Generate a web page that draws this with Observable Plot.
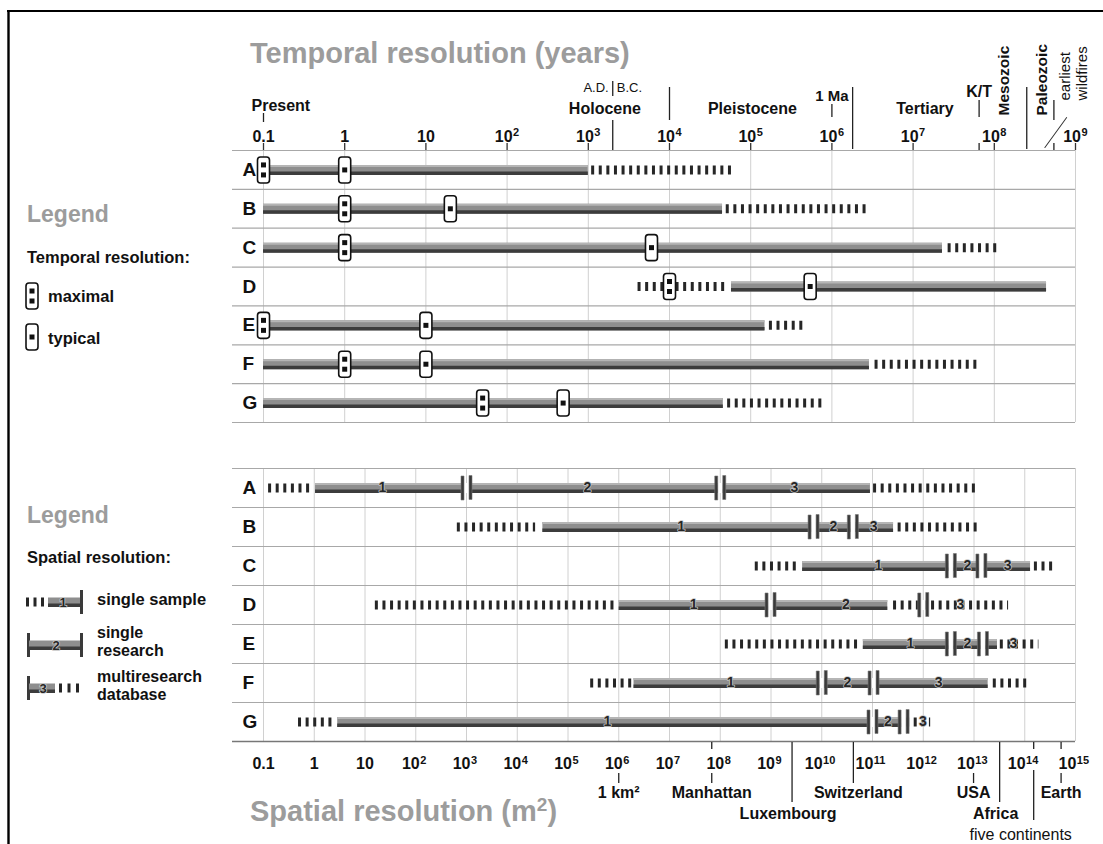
<!DOCTYPE html>
<html><head><meta charset="utf-8">
<script src="https://cdn.jsdelivr.net/npm/d3@7"></script>
<script src="https://cdn.jsdelivr.net/npm/@observablehq/plot@0.6"></script>
<style>
body{margin:0;background:#fff;}
#wrap{position:relative;width:1103px;height:844px;overflow:hidden;background:#fff;}
#wrap svg{position:absolute;left:0;}
</style></head><body><div id="wrap"></div>
<script>
const FONT = '"Liberation Sans", Arial, Helvetica, sans-serif';

// ---------------- data ----------------
const rows = ["A", "B", "C", "D", "E", "F", "G"];

// Temporal resolution (years)
const timeTicks = [0.1, 1, 10, 1e2, 1e3, 1e4, 1e5, 1e6, 1e7, 1e8, 1e9];
const tSolidFrom = [0.1, 0.1, 0.1, 5.8e4, 0.1, 0.1, 0.1];
const tSolidTo   = [1e3, 4.5e4, 2.3e7, 4.4e8, 1.5e5, 2.9e6, 4.6e4];
const tDashFrom  = [1.1e3, 5e4, 2.7e7, 4.1e3, 1.7e5, 3.4e6, 5.2e4];
const tDashTo    = [6.5e4, 2.8e6, 1.1e8, 5.1e4, 4.5e5, 6.3e7, 7.8e5];
const tMaximal   = [0.1, 1, 1, 1e4, 0.1, 1, 50];
const tTypical   = [1, 20, 6e3, 5.4e5, 10, 10, 490];

// time-scale annotations (years before present)
const present = 0.1;
const adbc = 2000;
const oneMa = 1e6;
const kt = 6.5e7;
const paleozoicStart = 5.42e8;
const wildfires = 4.2e8;
const boundaries = [1e4, 1.8e6, 2.51e8];
const epochNames = ["Holocene", "Pleistocene", "Tertiary"];
const epochAt = [1.6e3, 1.05e5, 1.4e7];
const eraNames = ["Mesozoic", "Paleozoic"];
const eraAt = [1.3e8, 3.9e8];

// Spatial resolution (m²)
const areaTicks = [0.1, 1, 10, 1e2, 1e3, 1e4, 1e5, 1e6, 1e7, 1e8, 1e9, 1e10, 1e11, 1e12, 1e13, 1e14, 1e15];
const sLeadFrom = [0.126, 660, 4.9e8, 16, 1.26e8, 2.8e5, 0.49];
const sLeadTo   = [0.84, 2.3e4, 3.3e9, 9.5e5, 5.3e10, 1.9e6, 2.4];
const sStart    = [1.06, 3.2e4, 4.2e9, 1.02e6, 6.6e10, 2e6, 2.9];
const sDiv1     = [1e3, 6.9e9, 3.5e12, 9.8e8, 3.5e12, 1e10, 1e11];
const sDiv2     = [1e8, 4.1e10, 1.4e13, 1e12, 1.5e13, 1.05e11, 4.1e11];
const sSolidEnd = [9.1e10, 2.6e11, 1.3e14, 2e11, 2.9e13, 1.9e13, 4.1e11];
const sTailFrom = [1.05e11, 3.2e11, 1.55e14, 2.6e11, 3.3e13, 2.4e13, 4.7e11];
const sTailTo   = [1.2e13, 1.35e13, 4.1e14, 4.8e13, 1.9e14, 1.1e14, 1.4e12];
const sLabel1At = [22, 1.7e7, 1.3e11, 3e7, 5.6e11, 1.6e8, 6e5];
const sLabel2At = [2.4e5, 1.7e10, 7.4e12, 3e10, 7.4e12, 3.2e10, 2e11];
const sLabel3At = [2.9e9, 1.05e11, 4.6e13, 5.4e12, 6e13, 2e12, 9.8e11];

const areaNames  = ["1 km²", "Manhattan", "Luxembourg", "Switzerland", "USA", "Africa", "five continents", "Earth"];
const areaValues = [1e6, 6.8e7, 2.6e9, 4.2e10, 9.8e12, 3.2e13, 1.5e14, 5.2e14];
const areaTier   = [1, 1, 2, 1, 1, 2, 3, 1];

// ---------------- helpers ----------------
const rowY = d => rows.indexOf(d.row) + 0.5;
const rowEdges = d3.range(rows.length + 1);
const expOf = v => Math.round(Math.log10(v));
const baseText = v => v >= 100 ? "10" : String(v);
const supText = v => String(expOf(v));

function roundRect(w, h, r) {
  return {draw(ctx) {
    const x0 = -w / 2, y0 = -h / 2, x1 = w / 2, y1 = h / 2;
    ctx.moveTo(x0 + r, y0); ctx.lineTo(x1 - r, y0); ctx.arcTo(x1, y0, x1, y0 + r, r);
    ctx.lineTo(x1, y1 - r); ctx.arcTo(x1, y1, x1 - r, y1, r);
    ctx.lineTo(x0 + r, y1); ctx.arcTo(x0, y1, x0, y1 - r, r);
    ctx.lineTo(x0, y0 + r); ctx.arcTo(x0, y0, x0 + r, y0, r); ctx.closePath();
  }};
}
const sq = s => ({draw(ctx) { ctx.rect(-s / 2, -s / 2, s, s); }});
const doubleBar = {draw(ctx) { ctx.rect(-5.5, -12, 3, 24); ctx.rect(2.5, -12.5, 3, 24); }};
const gapRect = {draw(ctx) { ctx.rect(-2.5, -5, 5, 10); }};
const lineShape = {draw(ctx, l) { ctx.moveTo(0, 0); ctx.lineTo(0, -l); }};

function geo(top, height, mt, mb) {
  const fTop = top + mt, fBot = top + height - mb;
  return {
    vline: (data, y1, y2, o = {}) => Plot.ruleX(data, {x: d => d, stroke: "#222", strokeWidth: 1.3, ...o, insetTop: y1 - fTop, insetBottom: fBot - y2}),
    label: (data, y, o = {}) => Plot.text(data, {frameAnchor: "top", lineAnchor: "bottom", fontWeight: "bold", fontSize: 16, fill: "#111", ...o, dy: y - fTop + (o.dy || 0)})
  };
}

function barMarks(solid, dashed) {
  return [
    Plot.ruleY(solid, {y: rowY, x1: "x1", x2: "x2", stroke: "#8e8e8e", strokeWidth: 10}),
    Plot.ruleY(solid, {y: rowY, x1: "x1", x2: "x2", stroke: "#b5b5b5", strokeWidth: 2, dy: -4}),
    Plot.ruleY(solid, {y: rowY, x1: "x1", x2: "x2", stroke: "#3c3c3c", strokeWidth: 3.5, dy: 3.3}),
    Plot.ruleY(dashed, {y: rowY, x1: "x1", x2: "x2", stroke: "#262626", strokeWidth: 9, strokeDasharray: "3,4.6"})
  ];
}

const wrap = document.getElementById("wrap");

// ---------------- temporal panel ----------------
{
  const top = 0, height = 430, mt = 150, mb = 8;
  const G = geo(top, height, mt, mb);
  const solid = rows.map((row, i) => ({row, x1: tSolidFrom[i], x2: tSolidTo[i]}));
  const dashed = rows.map((row, i) => ({row, x1: tDashFrom[i], x2: tDashTo[i]}));
  const boxes = rows.flatMap((row, i) => [{row, v: tMaximal[i], kind: "maximal"}, {row, v: tTypical[i], kind: "typical"}]);
  const maxB = boxes.filter(d => d.kind === "maximal"), typB = boxes.filter(d => d.kind === "typical");
  const plain = timeTicks.filter(v => v < 100), pow = timeTicks.filter(v => v >= 100);
  const svg = Plot.plot({
    width: 1103, height, marginTop: mt, marginBottom: mb, marginLeft: 263, marginRight: 28,
    style: {background: "transparent", fontFamily: FONT, overflow: "visible"},
    x: {type: "log", domain: [0.1, 1e9], axis: null},
    y: {domain: [0, rows.length], reverse: true, axis: null},
    marks: [
      Plot.ruleX(timeTicks, {x: d => d, stroke: "#d0d0d0", strokeWidth: 1}),
      Plot.ruleY(rowEdges, {y: d => d, stroke: "#a8a8a8", strokeWidth: 1.2, insetLeft: -31}),
      ...barMarks(solid, dashed),
      Plot.dot(boxes, {x: "v", y: rowY, symbol: roundRect(12, 26, 3), fill: "white", stroke: "#111", strokeWidth: 1.6}),
      Plot.dot(maxB, {x: "v", y: rowY, symbol: sq(5), fill: "#111", dy: -5}),
      Plot.dot(maxB, {x: "v", y: rowY, symbol: sq(5), fill: "#111", dy: 5}),
      Plot.dot(typB, {x: "v", y: rowY, symbol: sq(5), fill: "#111"}),
      Plot.text(rows, {frameAnchor: "left", y: (d, i) => i + 0.5, text: d => d, dx: -21, fontSize: 19, fontWeight: "bold", fill: "#111"}),
      // header: decade ticks and labels
      G.vline(timeTicks, 143, 150, {stroke: "#333"}),
      G.label(plain, 141, {x: d => d, text: baseText, textAnchor: "middle"}),
      G.label(pow, 141, {x: d => d, text: baseText, textAnchor: "end", dx: 5.5}),
      G.label(pow, 135, {x: d => d, text: supText, textAnchor: "start", dx: 6, fontSize: 11}),
      // present
      G.vline([present], 113, 122),
      G.label([present], 110, {x: d => d, text: () => "Present", textAnchor: "start", dx: -12}),
      // A.D. | B.C.
      G.vline([adbc], 81, 96),
      G.vline([adbc], 120, 150),
      G.label([adbc], 91, {x: d => d, text: () => "A.D.", textAnchor: "end", dx: -4, fontWeight: "normal", fontSize: 13}),
      G.label([adbc], 91, {x: d => d, text: () => "B.C.", textAnchor: "start", dx: 4, fontWeight: "normal", fontSize: 13}),
      // epoch boundaries
      G.vline(boundaries.slice(0, 1), 87, 120),
      G.vline(boundaries.slice(1), 87, 149),
      G.label(epochNames, 113, {x: (d, i) => epochAt[i], text: d => d, textAnchor: "middle"}),
      // 1 Ma
      G.vline([oneMa], 104, 117),
      G.label([oneMa], 100, {x: d => d, text: () => "1 Ma", textAnchor: "middle", fontSize: 15}),
      // K/T
      G.vline([kt], 100, 117),
      G.vline([kt], 143, 150),
      G.label([kt], 96, {x: d => d, text: () => "K/T", textAnchor: "middle"}),
      // eras (rotated)
      G.label(eraNames, 115, {x: (d, i) => eraAt[i], text: d => d, rotate: -90, textAnchor: "start", lineAnchor: "middle", fontSize: 15.5}),
      G.vline([paleozoicStart], 100, 120),
      G.vline([paleozoicStart], 143, 150),
      // earliest wildfires
      Plot.vector([wildfires], {x: d => d, frameAnchor: "top", dy: -3, length: 37, rotate: 36, anchor: "start", shape: lineShape, stroke: "#333", strokeWidth: 1}),
      G.label([wildfires], 100, {x: d => d, text: () => "earliest\nwildfires", rotate: -90, textAnchor: "start", lineAnchor: "middle", fontWeight: "normal", fontSize: 15, lineHeight: 1.15, dx: 28})
    ]
  });
  svg.style.top = top + "px";
  wrap.appendChild(svg);
}

// ---------------- spatial panel ----------------
{
  const top = 430, height = 414, mt = 38, mb = 103;
  const G = geo(top, height, mt, mb);
  const solid = rows.map((row, i) => ({row, x1: sStart[i], x2: sSolidEnd[i]}));
  const dashed = rows.flatMap((row, i) => [{row, x1: sLeadFrom[i], x2: sLeadTo[i]}, {row, x1: sTailFrom[i], x2: sTailTo[i]}]);
  const divs = rows.flatMap((row, i) => [{row, v: sDiv1[i]}, {row, v: sDiv2[i]}]);
  const nums = rows.flatMap((row, i) => [{row, v: sLabel1At[i], t: "1"}, {row, v: sLabel2At[i], t: "2"}, {row, v: sLabel3At[i], t: "3"}]);
  const plain = areaTicks.filter(v => v < 100);
  const pow1 = areaTicks.filter(v => v >= 100 && v < 1e10);
  const pow2 = areaTicks.filter(v => v >= 1e10);
  const areas = areaNames.map((name, i) => ({name, v: areaValues[i], tier: areaTier[i]}));
  const byName = n => areas.filter(d => n.includes(d.name));
  const svg = Plot.plot({
    width: 1103, height, marginTop: mt, marginBottom: mb, marginLeft: 263, marginRight: 28,
    style: {background: "transparent", fontFamily: FONT, overflow: "visible"},
    x: {type: "log", domain: [0.1, 1e15], axis: null},
    y: {domain: [0, rows.length], reverse: true, axis: null},
    marks: [
      Plot.ruleX(areaTicks, {x: d => d, stroke: "#d0d0d0", strokeWidth: 1}),
      Plot.ruleY(rowEdges.slice(0, -1), {y: d => d, stroke: "#a8a8a8", strokeWidth: 1.2, insetLeft: -31}),
      Plot.ruleY(rowEdges.slice(-1), {y: d => d, stroke: "#777", strokeWidth: 1.4, insetLeft: -31}),
      ...barMarks(solid, dashed),
      Plot.dot(divs, {x: "v", y: rowY, symbol: gapRect, fill: "white", stroke: "none"}),
      Plot.dot(divs, {x: "v", y: rowY, symbol: doubleBar, fill: "#3a3a3a", stroke: "#777", strokeWidth: 0.6}),
      Plot.text(nums, {x: "v", y: rowY, text: "t", fontSize: 14, fontWeight: "bold", fill: "#262626", stroke: "#c8c8c8", strokeWidth: 1.5, paintOrder: "stroke"}),
      Plot.text(rows, {frameAnchor: "left", y: (d, i) => i + 0.5, text: d => d, dx: -21, fontSize: 19, fontWeight: "bold", fill: "#111"}),
      // bottom axis labels
      G.label(plain, 768, {x: d => d, text: baseText, textAnchor: "middle"}),
      G.label(pow1, 768, {x: d => d, text: baseText, textAnchor: "end", dx: 4}),
      G.label(pow1, 763, {x: d => d, text: supText, textAnchor: "start", dx: 4.5, fontSize: 11}),
      G.label(pow2, 768, {x: d => d, text: baseText, textAnchor: "end", dx: 0.8}),
      G.label(pow2, 763, {x: d => d, text: supText, textAnchor: "start", dx: 1.3, fontSize: 11}),
      // area reference marks
      G.vline(byName(["1 km²", "Manhattan", "USA", "Earth"]).map(d => d.v), 773, 783),
      G.vline(byName(["Manhattan", "five continents", "Earth"]).map(d => d.v), 742, 749),
      G.vline(byName(["Switzerland"]).map(d => d.v), 742, 783),
      G.vline(areas.filter(d => d.tier === 2).map(d => d.v), 742, 802),
      G.vline(areas.filter(d => d.tier === 3).map(d => d.v), 770, 820),
      G.label(areas.filter(d => d.tier === 1 && d.name !== "Switzerland"), 797, {x: "v", text: "name", textAnchor: "middle"}),
      G.label(byName(["Switzerland"]), 797, {x: "v", text: "name", textAnchor: "middle", dx: 5}),
      G.label(areas.filter(d => d.tier === 2), 818, {x: "v", text: "name", textAnchor: "middle", dx: -4}),
      G.label(areas.filter(d => d.tier === 3), 839, {x: "v", text: "name", textAnchor: "middle", dx: -13, fontWeight: "normal"})
    ]
  });
  svg.style.top = top + "px";
  wrap.appendChild(svg);
}

// ---------------- overlay: frame, titles, legends ----------------
{
  const ov = d3.select(wrap).append("svg").attr("width", 1103).attr("height", 844)
    .style("top", "0px").style("pointer-events", "none").style("font-family", FONT);
  ov.append("line").attr("x1", 7).attr("x2", 1103).attr("y1", 11).attr("y2", 11).attr("stroke", "#000").attr("stroke-width", 2.2);
  ov.append("line").attr("x1", 8.5).attr("x2", 8.5).attr("y1", 10).attr("y2", 844).attr("stroke", "#000").attr("stroke-width", 2.4);
  const txt = (x, y, s, size, weight, fill) => ov.append("text").attr("x", x).attr("y", y)
    .attr("font-size", size).attr("font-weight", weight).attr("fill", fill).text(s);
  txt(250, 63, "Temporal resolution (years)", 29, "bold", "#9c9c9c");
  const st = ov.append("text").attr("x", 250).attr("y", 821).attr("font-size", 29).attr("font-weight", "bold").attr("fill", "#9c9c9c");
  st.append("tspan").text("Spatial resolution (m");
  st.append("tspan").attr("font-size", 19).attr("dy", -10).text("2");
  st.append("tspan").attr("dy", 10).text(")");

  // temporal legend
  txt(27, 222, "Legend", 23, "bold", "#9c9c9c");
  txt(27, 263, "Temporal resolution:", 16.5, "bold", "#111");
  const box = (cy, two) => {
    ov.append("rect").attr("x", 26).attr("y", cy - 13).attr("width", 12).attr("height", 26).attr("rx", 3)
      .attr("fill", "white").attr("stroke", "#111").attr("stroke-width", 1.6);
    (two ? [-5, 5] : [0]).forEach(o => ov.append("rect").attr("x", 29.5).attr("y", cy + o - 2.5).attr("width", 5).attr("height", 5).attr("fill", "#111"));
  };
  box(296, true); txt(48, 302, "maximal", 16.5, "bold", "#111");
  box(337, false); txt(48, 344, "typical", 16.5, "bold", "#111");

  // spatial legend
  txt(27, 523, "Legend", 23, "bold", "#9c9c9c");
  txt(27, 563, "Spatial resolution:", 16.5, "bold", "#111");
  const bar = (x1, x2, cy) => {
    ov.append("rect").attr("x", x1).attr("y", cy - 4.5).attr("width", x2 - x1).attr("height", 9).attr("fill", "#8e8e8e");
    ov.append("rect").attr("x", x1).attr("y", cy + 1.5).attr("width", x2 - x1).attr("height", 3.5).attr("fill", "#3c3c3c");
  };
  const dashes = (xs, cy) => xs.forEach(x => ov.append("rect").attr("x", x).attr("y", cy - 4.5).attr("width", 3).attr("height", 9).attr("fill", "#262626"));
  const endBar = (x, cy) => ov.append("rect").attr("x", x).attr("y", cy - 12).attr("width", 3).attr("height", 24).attr("fill", "#3a3a3a");
  const num = (x, cy, s) => ov.append("text").attr("x", x).attr("y", cy + 5).attr("text-anchor", "middle")
    .attr("font-size", 13).attr("font-weight", "bold").attr("fill", "#262626").attr("stroke", "#c8c8c8")
    .attr("stroke-width", 1.5).attr("paint-order", "stroke").text(s);
  // single sample
  dashes([26, 33.5, 41], 602); bar(48, 80, 602); num(63, 602, "1"); endBar(80, 602);
  txt(97, 605, "single sample", 16.5, "bold", "#111");
  // single research
  endBar(27, 645); bar(29, 81, 645); num(56, 645, "2"); endBar(80, 645);
  txt(97, 638, "single", 16, "bold", "#111");
  txt(97, 656, "research", 16, "bold", "#111");
  // multiresearch database
  endBar(27, 688); bar(29, 55, 688); num(43, 688, "3"); dashes([59, 67.5, 76], 688);
  txt(97, 682, "multiresearch", 16, "bold", "#111");
  txt(97, 700, "database", 16, "bold", "#111");
}
</script></body></html>
